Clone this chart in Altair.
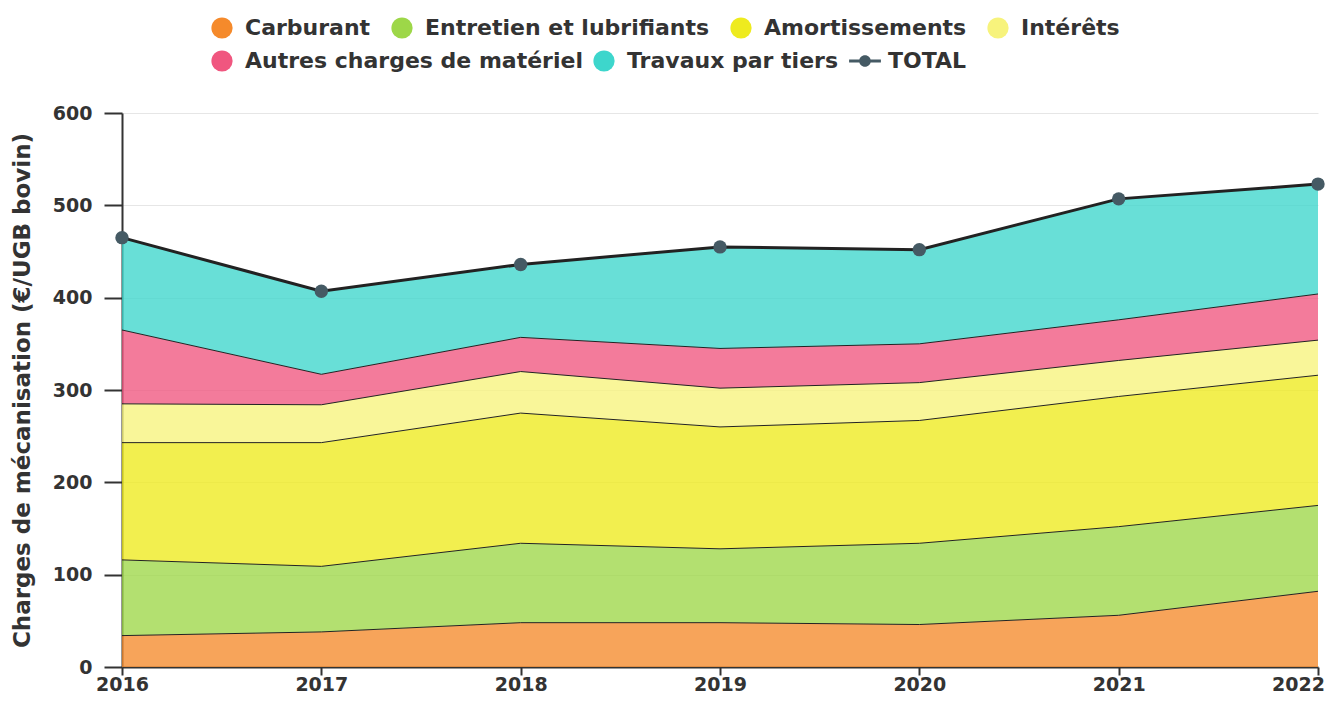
import altair as alt
import pandas as pd

years = [2016, 2017, 2018, 2019, 2020, 2021, 2022]
carburant = [34, 38, 48, 48, 46, 56, 82]
entretien = [82, 71, 86, 80, 88, 96, 93]
amortissements = [127, 134, 141, 132, 133, 141, 141]
interets = [42, 41, 45, 42, 41, 39, 38]
autres = [80, 33, 37, 43, 42, 44, 50]
travaux = [100, 90, 79, 110, 102, 131, 119]
total = [465, 407, 436, 455, 452, 507, 523]

series_names = ["Carburant", "Entretien et lubrifiants", "Amortissements", "Intérêts",
                "Autres charges de matériel", "Travaux par tiers"]
series_values = [carburant, entretien, amortissements, interets, autres, travaux]
colors = ["#F58A2B", "#9DD748", "#EEEB1E", "#F7F37C", "#F0567F", "#3DD6CC"]
total_name = "TOTAL"
total_color = "#455A64"

rows = []
for i, (name, vals) in enumerate(zip(series_names, series_values)):
    for yr, v in zip(years, vals):
        rows.append({"annee": yr, "serie": name, "valeur": v, "ordre": i})
df = pd.DataFrame(rows)
df_total = pd.DataFrame({"annee": years, "total": total})

FONT = "DejaVu Sans"
total_path = ("M-1.5,-0.15L1.5,-0.15L1.5,0.15L-1.5,0.15Z "
              "M0.55,0A0.55,0.55 0 1,1 -0.55,0A0.55,0.55 0 1,1 0.55,0Z")

legend_common = dict(
    title=None, orient="none", direction="horizontal", symbolSize=450,
    symbolStrokeWidth=0, symbolOpacity=1, labelFont=FONT, labelFontSize=22,
    labelFontWeight="bold", labelColor="#333333", labelLimit=0, labelOffset=12,
)

row1 = series_names[:4]
row2 = series_names[4:] + [total_name]
row2_colors = colors[4:] + [total_color]
row2_shapes = ["circle", "circle", total_path]

x_enc = alt.X("annee:Q", scale=alt.Scale(domain=[2016, 2022], nice=False, zero=False),
              axis=alt.Axis(values=years, format="d", title=None, grid=False,
                            tickSize=8, labelPadding=0, labelFlush=False,
                            labelOffset={"condition": {"test": "datum.value == 2022", "value": -20},
                                         "value": 0}))
y_scale = alt.Scale(domain=[0, 600], nice=False)
y_axis = alt.Axis(values=[0, 100, 200, 300, 400, 500, 600], title="Charges de mécanisation (€/UGB bovin)",
                  tickSize=18, labelPadding=12, titlePadding=18, grid=True)

base = alt.Chart(df).transform_stack(
    stack="valeur", groupby=["annee"], as_=["y0", "y1"], sort=[alt.SortField("ordre", order="ascending")]
)

areas = base.mark_area(opacity=0.78, interpolate="linear").encode(
    x=x_enc,
    y=alt.Y("y1:Q", scale=y_scale, axis=y_axis),
    y2="y0:Q",
    color=alt.Color(
        "serie:N",
        scale=alt.Scale(domain=series_names, range=colors),
        legend=alt.Legend(values=row1, legendX=89, legendY=-96, symbolType="circle",
                          columnPadding=20, **legend_common),
    ),
    detail="ordre:Q",
)

edges = base.mark_line(color="#222222", strokeWidth=1, interpolate="linear").encode(
    x=x_enc,
    y=alt.Y("y1:Q", scale=y_scale),
    detail="serie:N",
)

# legend-only layer (no marks drawn) for the second legend row
legend_row2 = alt.Chart(df).transform_filter("false").mark_point(filled=True, opacity=1).encode(
    x=x_enc,
    y=alt.Y("valeur:Q", scale=y_scale),
    fill=alt.Fill("serie:N", scale=alt.Scale(domain=row2, range=row2_colors),
                  legend=alt.Legend(legendX=89, legendY=-63, columnPadding=10, **legend_common)),
    shape=alt.Shape("serie:N", scale=alt.Scale(domain=row2, range=row2_shapes),
                    legend=alt.Legend(legendX=89, legendY=-63, columnPadding=10, **legend_common)),
)

total_line = alt.Chart(df_total).mark_line(color="#222222", strokeWidth=3).encode(
    x=x_enc, y=alt.Y("total:Q", scale=y_scale)
)
total_pts = alt.Chart(df_total).mark_point(filled=True, size=180, opacity=1, color=total_color).encode(
    x=x_enc, y=alt.Y("total:Q", scale=y_scale),
)

chart = alt.layer(areas, edges, total_line, total_pts, legend_row2).properties(
    width=1196, height=554,
    autosize=alt.AutoSizeParams(type="none"),
    padding={"left": 114, "top": 105, "right": 7, "bottom": 30},
).configure_view(stroke=None).configure_axis(
    labelFont=FONT, labelFontSize=19, labelFontWeight="bold", labelColor="#333333",
    titleFont=FONT, titleFontSize=23, titleFontWeight="bold", titleColor="#333333",
    domainColor="#333333", domainWidth=2, tickColor="#333333", tickWidth=2,
    gridColor="#E6E6E6", gridWidth=1,
)

chart.save("out.html", embed_options={"renderer": "svg", "actions": False})
